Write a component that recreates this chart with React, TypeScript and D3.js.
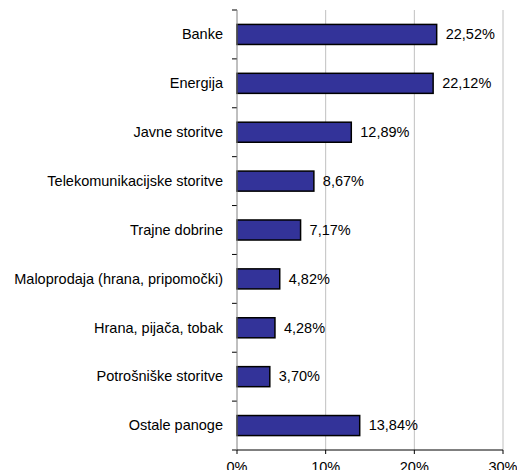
import React from "react";
import * as d3 from "d3";

const categories = [
  "Banke",
  "Energija",
  "Javne storitve",
  "Telekomunikacijske storitve",
  "Trajne dobrine",
  "Maloprodaja (hrana, pripomočki)",
  "Hrana, pijača, tobak",
  "Potrošniške storitve",
  "Ostale panoge",
];
const values = [22.52, 22.12, 12.89, 8.67, 7.17, 4.82, 4.28, 3.7, 13.84];
const xTicks = [0, 10, 20, 30];

const W = 517;
const H = 470;
const left = 237;
const right = 503;
const top = 10;
const bottom = 450;
const FS = 14.5;

export default function App() {
  const x = d3.scaleLinear().domain([0, 30]).range([left, right]);
  const y = d3.scaleBand<string>().domain(categories).range([top, bottom]).paddingInner(0.59).paddingOuter(0.295);
  const band = (bottom - top) / categories.length;
  const fmt = (v: number) => v.toFixed(2).replace(".", ",") + "%";
  return (
    <svg width={W} height={H} style={{ position: "absolute", left: 0, top: 0 }} fontFamily="Liberation Sans, Arial, sans-serif">
      <rect width={W} height={H} fill="white" />
      {xTicks.slice(1).map((t) => (
        <line key={t} x1={x(t)} x2={x(t)} y1={top} y2={bottom} stroke="#c0c0c0" strokeWidth={1} />
      ))}
      {categories.map((c, i) => (
        <g key={c}>
          <rect
            x={x(0)}
            y={y(c)!}
            width={x(values[i]) - x(0)}
            height={y.bandwidth()}
            fill="#333399"
            stroke="#000"
            strokeWidth={1.5}
          />
          <text x={x(values[i]) + 9} y={y(c)! + y.bandwidth() / 2} dy="0.33em" fontSize={FS} fill="#000">
            {fmt(values[i])}
          </text>
          <text x={223} y={y(c)! + y.bandwidth() / 2} dy="0.33em" fontSize={FS} textAnchor="end" fill="#000">
            {c}
          </text>
        </g>
      ))}
      {d3.range(categories.length + 1).map((i) => (
        <line key={i} x1={left - 5} x2={left} y1={top + i * band} y2={top + i * band} stroke="#000" />
      ))}
      <line x1={left} x2={left} y1={top} y2={bottom} stroke="#808080" />
      <line x1={left} x2={right} y1={bottom} y2={bottom} stroke="#000" />
      {xTicks.map((t) => (
        <g key={t}>
          <line x1={x(t)} x2={x(t)} y1={bottom} y2={bottom + 4} stroke="#000" />
          <text x={x(t)} y={bottom + 22} fontSize={FS} textAnchor="middle" fill="#000">
            {t}%
          </text>
        </g>
      ))}
    </svg>
  );
}
